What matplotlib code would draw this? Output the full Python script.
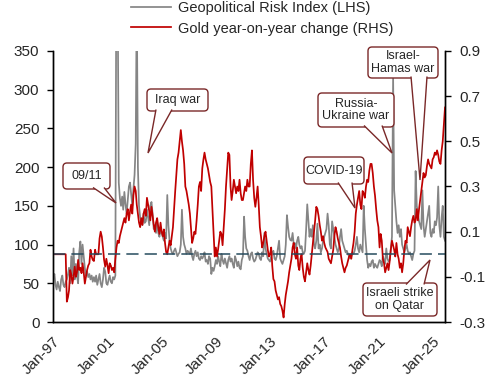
import matplotlib
matplotlib.use("Agg")
import matplotlib.pyplot as plt
import matplotlib.dates as mdates
import pandas as pd
from matplotlib.patches import FancyBboxPatch, Polygon

plt.rcParams["font.family"] = ["Liberation Sans", "DejaVu Sans"]

# Geopolitical Risk Index, monthly from Jan-97 (LHS)
gpr_by_year = [
    [58, 62, 48, 42, 52, 45, 40, 55, 60, 48, 45, 52],
    [55, 62, 70, 50, 85, 60, 95, 55, 75, 60, 50, 90],
    [104, 75, 100, 85, 70, 60, 65, 58, 62, 55, 60, 52],
    [58, 52, 60, 48, 55, 62, 50, 45, 55, 70, 65, 50],
    [48, 55, 60, 52, 50, 58, 55, 60, 520, 440, 180, 160],
    [150, 162, 145, 168, 152, 140, 158, 175, 180, 165, 150, 172],
    [190, 230, 420, 200, 150, 135, 130, 125, 140, 128, 130, 145],
    [135, 125, 150, 155, 140, 120, 125, 115, 130, 115, 110, 120],
    [115, 110, 105, 115, 108, 164, 125, 105, 95, 90, 88, 92],
    [95, 90, 85, 88, 90, 100, 145, 110, 100, 95, 88, 92],
    [90, 88, 95, 85, 80, 88, 92, 85, 90, 82, 80, 85],
    [82, 85, 90, 78, 80, 75, 85, 82, 62, 70, 66, 72],
    [80, 75, 85, 78, 72, 88, 80, 75, 82, 76, 70, 80],
    [85, 78, 82, 75, 70, 85, 80, 72, 78, 70, 68, 80],
    [85, 136, 110, 95, 92, 85, 80, 88, 90, 82, 78, 80],
    [85, 90, 88, 82, 80, 90, 85, 115, 95, 88, 82, 80],
    [78, 85, 88, 92, 82, 80, 85, 95, 105, 82, 78, 75],
    [80, 85, 100, 138, 123, 110, 106, 105, 115, 100, 102, 95],
    [105, 110, 100, 95, 98, 90, 88, 92, 120, 152, 130, 110],
    [120, 110, 125, 100, 95, 105, 127, 95, 100, 90, 95, 105],
    [110, 115, 120, 140, 125, 100, 95, 130, 120, 110, 100, 95],
    [90, 95, 110, 120, 105, 100, 95, 90, 92, 88, 85, 82],
    [85, 90, 88, 92, 100, 110, 95, 90, 100, 95, 90, 150],
    [120, 100, 80, 70, 75, 72, 78, 80, 70, 75, 72, 70],
    [75, 80, 78, 72, 85, 80, 75, 95, 82, 78, 80, 95],
    [110, 317, 170, 150, 130, 115, 125, 110, 120, 100, 95, 90],
    [95, 100, 92, 88, 90, 85, 80, 88, 92, 195, 150, 140],
    [130, 125, 120, 170, 125, 110, 120, 130, 140, 150, 115, 110],
    [120, 115, 130, 125, 135, 175, 125, 110, 135, 150, 110, 105],
]

# Gold year-on-year change (RHS)
gold_by_year = [
    [0, 0, 0, 0, 0, 0, 0, 0, 0, 0, 0, 0],
    [-0.21, -0.19, -0.16, -0.07, -0.09, -0.13, -0.10, -0.055, -0.10, -0.08, -0.025, -0.07],
    [-0.06, -0.084, -0.04, -0.08, -0.13, -0.10, -0.07, -0.05, -0.04, 0.02, -0.01, -0.025],
    [-0.03, 0.02, 0.0, 0.0, 0.0, 0.07, 0.10, 0.078, 0.03, -0.025, -0.055, -0.02],
    [-0.05, -0.084, -0.04, -0.05, -0.07, -0.06, -0.08, -0.02, 0.03, 0.06, 0.05, 0.08],
    [0.10, 0.12, 0.14, 0.16, 0.14, 0.18, 0.20, 0.15, 0.19, 0.22, 0.18, 0.26],
    [0.30, 0.28, 0.22, 0.18, 0.14, 0.12, 0.16, 0.13, 0.18, 0.20, 0.17, 0.25],
    [0.22, 0.19, 0.15, 0.21, 0.17, 0.13, 0.10, 0.14, 0.16, 0.12, 0.09, 0.14],
    [0.10, 0.08, 0.11, 0.05, 0.01, 0.0, 0.03, 0.06, 0.04, 0.08, 0.12, 0.20],
    [0.28, 0.35, 0.42, 0.45, 0.50, 0.55, 0.50, 0.46, 0.40, 0.30, 0.28, 0.25],
    [0.22, 0.18, 0.12, 0.05, 0.07, 0.10, 0.09, 0.15, 0.22, 0.30, 0.32, 0.28],
    [0.38, 0.42, 0.45, 0.42, 0.40, 0.38, 0.35, 0.32, 0.30, 0.20, 0.10, -0.01],
    [0.03, -0.01, 0.02, 0.06, 0.10, 0.09, 0.04, 0.12, 0.20, 0.30, 0.38, 0.45],
    [0.44, 0.30, 0.24, 0.28, 0.33, 0.30, 0.27, 0.30, 0.28, 0.33, 0.27, 0.24],
    [0.24, 0.27, 0.30, 0.28, 0.33, 0.30, 0.30, 0.40, 0.46, 0.33, 0.25, 0.21],
    [0.25, 0.30, 0.22, 0.12, 0.08, 0.03, 0.05, 0.08, 0.10, 0.06, 0.02, -0.01],
    [0.0, 0.03, -0.05, -0.11, -0.12, -0.16, -0.18, -0.20, -0.19, -0.22, -0.23, -0.25],
    [-0.28, -0.22, -0.18, -0.15, -0.12, -0.08, -0.05, -0.02, 0.03, 0.05, 0.0, -0.02],
    [0.03, -0.05, -0.07, -0.02, 0.0, -0.06, -0.10, -0.12, -0.08, -0.04, -0.07, -0.09],
    [-0.05, 0.0, 0.05, 0.10, 0.15, 0.21, 0.20, 0.17, 0.13, 0.10, 0.06, 0.08],
    [0.05, 0.03, 0.02, 0.01, -0.02, -0.03, -0.04, -0.01, 0.02, 0.08, 0.12, 0.10],
    [0.07, 0.05, 0.03, -0.01, -0.04, -0.06, -0.08, -0.06, -0.05, -0.03, -0.01, 0.0],
    [-0.02, 0.02, 0.05, 0.10, 0.18, 0.22, 0.25, 0.28, 0.22, 0.20, 0.28, 0.27],
    [0.25, 0.30, 0.33, 0.32, 0.37, 0.40, 0.40, 0.36, 0.30, 0.26, 0.20, 0.15],
    [0.12, 0.03, 0.09, 0.06, -0.02, -0.04, -0.08, -0.06, -0.04, -0.07, -0.03, 0.02],
    [0.06, 0.04, 0.02, -0.01, 0.05, 0.0, -0.02, -0.06, -0.04, -0.08, -0.04, 0.02],
    [0.06, 0.05, 0.12, 0.10, 0.08, 0.12, 0.15, 0.17, 0.14, 0.15, 0.20, 0.15],
    [0.20, 0.24, 0.28, 0.32, 0.36, 0.34, 0.35, 0.39, 0.42, 0.40, 0.39, 0.38],
    [0.42, 0.43, 0.45, 0.44, 0.46, 0.44, 0.41, 0.40, 0.46, 0.50, 0.58, 0.65],
]

gpr = [v for year in gpr_by_year for v in year]
gold = [v for year in gold_by_year for v in year]
dates = pd.date_range("1997-01-01", periods=len(gpr), freq="MS")

left_ticks = [0, 50, 100, 150, 200, 250, 300, 350]
right_ticks = [-0.3, -0.1, 0.1, 0.3, 0.5, 0.7, 0.9]
tick_years = [1997, 2001, 2005, 2009, 2013, 2017, 2021, 2025]

# (text, box x0, y0, x1, y1, wedge base x0, x1, side, tip) in figure pixels
callouts = [
    ("09/11", 63, 163, 110, 189, 93, 104, "bottom", (116, 203)),
    ("Iraq war", 147, 89, 208, 111, 156, 172, "bottom", (148, 153)),
    ("COVID-19", 304, 157, 364, 184, 338, 352, "bottom", (355, 208)),
    ("Russia-\nUkraine war", 318, 93, 394, 127, 364, 382, "bottom", (392, 153)),
    ("Israel-\nHamas war", 368, 47, 438, 78, 411, 427, "bottom", (420, 180)),
    ("Israeli strike\non Qatar", 363, 283, 437, 316, 406, 424, "top", (430, 260)),
]

GREY = "#858585"
RED = "#C00000"
MAROON = "#7A2828"
TEXT = "#262626"

W, H = 502, 382
fig = plt.figure(figsize=(W / 100, H / 100), dpi=100)
ax = fig.add_axes([53.3 / W, 1 - 322 / H, (445 - 53.3) / W, (322 - 51) / H])
ax2 = ax.twinx()

ax.plot(dates, gpr, color=GREY, lw=1.25, label="Geopolitical Risk Index (LHS)")
ax2.plot(dates, gold, color=RED, lw=1.25, label="Gold year-on-year change (RHS)")
ax2.axhline(0, color="#264B5E", lw=1.1, dashes=(8, 4))

ax.set_ylim(0, 350)
ax2.set_ylim(-0.3, 0.9)
ax.set_xlim(dates[0], dates[-1])
ax.set_yticks(left_ticks)
ax2.set_yticks(right_ticks)
ax2.set_yticklabels([f"{t:.1f}" for t in right_ticks])
ax.set_xticks([pd.Timestamp(f"{y}-01-01") for y in tick_years])
ax.xaxis.set_major_formatter(mdates.DateFormatter("%b-%y"))

for a in (ax, ax2):
    a.spines["top"].set_visible(False)
    for s in ("left", "right", "bottom"):
        a.spines[s].set_linewidth(1.0)
        a.spines[s].set_color("black")
    a.tick_params(axis="y", length=4, width=1.0, labelsize=11, labelcolor=TEXT, pad=6)
ax.tick_params(axis="x", length=0, labelsize=11, labelcolor=TEXT, pad=9)
for lbl in ax.get_xticklabels():
    lbl.set_rotation(45)
    lbl.set_ha("right")
    lbl.set_va("top")
    lbl.set_rotation_mode("anchor")

h1, l1 = ax.get_legend_handles_labels()
h2, l2 = ax2.get_legend_handles_labels()
fig.legend(h1 + h2, l1 + l2, loc="upper left", bbox_to_anchor=(131 / W, 1 - 1 / H),
           frameon=False, fontsize=10.5, handlelength=2.75, handletextpad=0.45,
           labelspacing=0.45, borderpad=0, borderaxespad=0, labelcolor=TEXT)

ov = fig.add_axes([0, 0, 1, 1], zorder=5)
ov.set_xlim(0, W)
ov.set_ylim(H, 0)
ov.axis("off")
for text, x0, y0, x1, y1, bx0, bx1, side, tip in callouts:
    ov.add_patch(FancyBboxPatch((x0, y0), x1 - x0, y1 - y0,
                                boxstyle="round,pad=0,rounding_size=4",
                                fc="white", ec=MAROON, lw=1.0))
    ye = y1 - 1.5 if side == "bottom" else y0 + 1.5
    ov.add_patch(Polygon([(bx0, ye), tip, (bx1, ye)], closed=False,
                         fc="white", ec=MAROON, lw=1.0))
    ov.text((x0 + x1) / 2, (y0 + y1) / 2, text, ha="center", va="center",
            fontsize=9, color=TEXT, linespacing=1.1)

fig.savefig("out.png", dpi=100)
